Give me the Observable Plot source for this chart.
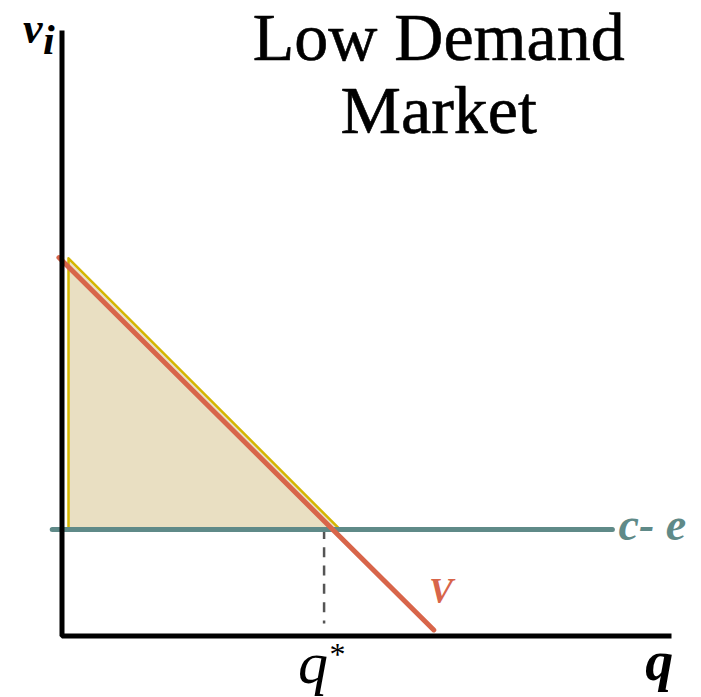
<!DOCTYPE html>
<html>
<head>
<meta charset="utf-8">
<script src="https://cdn.jsdelivr.net/npm/d3@7"></script>
<script src="https://cdn.jsdelivr.net/npm/@observablehq/plot@0.6"></script>
<style>
  html, body { margin: 0; padding: 0; background: #fff; }
  #chart svg { display: block; }
</style>
</head>
<body>
<div id="chart"></div>
<script>
// ---- data ----
const titleText = "Low Demand\nMarket";
const axisQ = [0, 0, 10];
const axisV = [10, 0, 0];
const demandQ = [-0.05, 6.10];
const demandV = [6.25, 0.10];
const costQ = [-0.16, 9.03];
const costV = 1.76;
const surplusQ = [0.115, 4.56];
const surplusTop = [6.23, 1.76];
const qStar = 4.30;
const qStarLow = 0.2;
const labelV = "V";
const labelCost = "c- e";
const labelVi = ["v", "i"];
const labelQ = "q";
const labelQStar = ["q", "*"];

const red = "#d8654a";
const teal = "#5f8a88";
const yellow = "#d4b600";
const beige = "#e9dfc2";
const serif = "Liberation Serif, Times New Roman, serif";

const axisData = axisQ.map((q, i) => ({q, v: axisV[i]}));
const demand = demandQ.map((q, i) => ({q, v: demandV[i]}));
const cost = costQ.map(q => ({q, v: costV}));
const surplus = surplusQ.map((q, i) => ({q, lo: costV, hi: surplusTop[i]}));

const chart = Plot.plot({
  width: 701,
  height: 697,
  marginLeft: 61.5,
  marginRight: 30,
  marginTop: 30,
  marginBottom: 61.5,
  x: {domain: [0, 10], axis: null},
  y: {domain: [0, 10], axis: null},
  style: {fontFamily: serif, background: "white", overflow: "visible"},
  marks: [
    Plot.areaY(surplus, {x: "q", y1: "lo", y2: "hi", fill: beige, stroke: yellow, strokeWidth: 2.5}),
    Plot.ruleX([qStar], {y1: costV, y2: qStarLow, stroke: "#555", strokeWidth: 2.5, strokeDasharray: "10,8.3"}),
    Plot.line(cost, {x: "q", y: "v", stroke: teal, strokeWidth: 5}),
    Plot.line(demand, {x: "q", y: "v", stroke: red, strokeWidth: 5}),
    Plot.line(axisData, {x: "q", y: "v", stroke: "black", strokeWidth: 5, strokeLinejoin: "miter", strokeLinecap: "butt"}),
    Plot.text([titleText], {x: 6.18, y: 10.36, text: d => d, fontSize: 68, lineAnchor: "top", lineHeight: 1.07, textAnchor: "middle", fill: "black", stroke: "black", strokeWidth: 0.6}),
    Plot.text([labelVi[0]], {x: -0.48, y: 9.80, text: d => d, fontSize: 44, fontStyle: "italic", fontWeight: "bold", lineAnchor: "bottom", textAnchor: "middle"}),
    Plot.text([labelVi[1]], {x: -0.31, y: 9.62, text: d => d, fontSize: 42, fontStyle: "italic", fontWeight: "bold", lineAnchor: "bottom", textAnchor: "start"}),
    Plot.text([labelV], {x: 6.22, y: 0.553, text: d => d, fontSize: 36, fontStyle: "italic", fontWeight: "bold", lineAnchor: "bottom", textAnchor: "middle", fill: red}),
    Plot.text([labelCost], {x: 9.13, y: 1.58, text: d => d, fontSize: 46, fontStyle: "italic", fontWeight: "bold", lineAnchor: "bottom", textAnchor: "start", fill: teal}),
    Plot.text([labelQStar[0]], {x: 4.12, y: -0.78, text: d => d, fontSize: 60, fontStyle: "italic", lineAnchor: "bottom", textAnchor: "middle", fill: "black"}),
    Plot.text([labelQStar[1]], {x: 4.39, y: -0.48, text: d => d, fontSize: 32, lineAnchor: "bottom", textAnchor: "start", fill: "black"}),
    Plot.text([labelQ], {x: 9.80, y: -0.73, text: d => d, fontSize: 56, fontStyle: "italic", fontWeight: "bold", lineAnchor: "bottom", textAnchor: "middle", fill: "black"})
  ]
});
document.getElementById("chart").appendChild(chart);
</script>
</body>
</html>
